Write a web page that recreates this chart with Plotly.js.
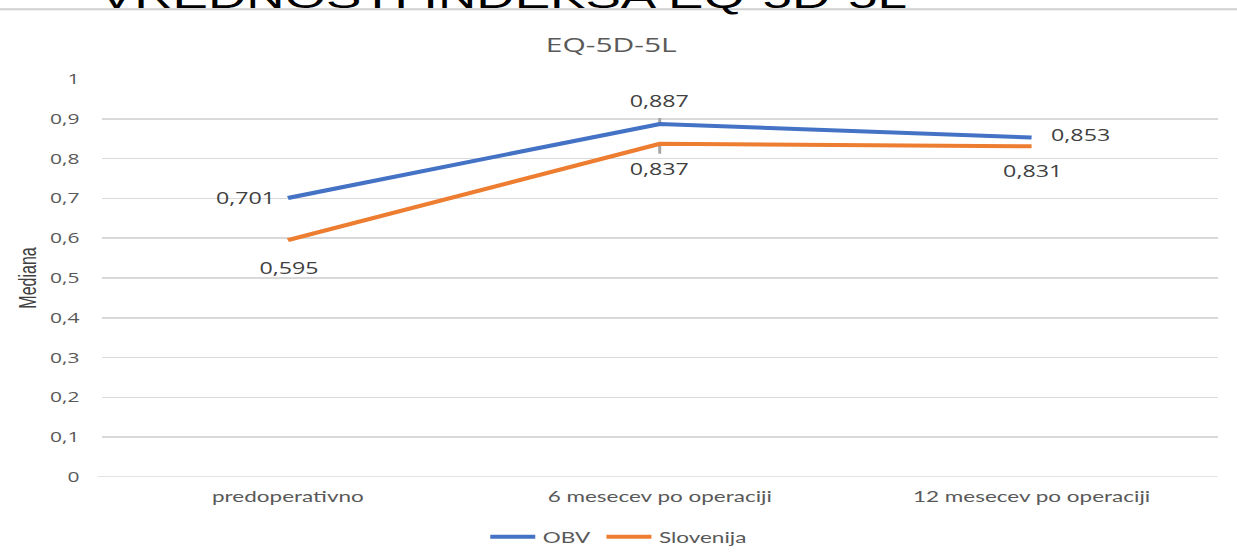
<!DOCTYPE html>
<html>
<head>
<meta charset="utf-8">
<script src="https://cdn.plot.ly/plotly-3.0.1.min.js"></script>
<style>
html,body{margin:0;padding:0;background:#fff;overflow:hidden;}
#wrap{width:1237px;height:560px;overflow:hidden;}
#chart{width:825px;height:560px;transform:scaleX(1.49939);transform-origin:0 0;}
</style>
</head>
<body>
<div id="wrap"><div id="chart"></div></div>
<script>
const categories = ["predoperativno", "6 mesecev po operaciji", "12 mesecev po operaciji"];
const obvValues = [0.701, 0.887, 0.853];
const sloValues = [0.595, 0.837, 0.831];
const yTickVals = [0, 0.1, 0.2, 0.3, 0.4, 0.5, 0.6, 0.7, 0.8, 0.9, 1];
const yTickText = ["0", "0,1", "0,2", "0,3", "0,4", "0,5", "0,6", "0,7", "0,8", "0,9", "1"];
const seriesNames = ["OBV", "Slovenija"];
const pageTitle = "VREDNOSTI INDEKSA EQ-5D-5L";
const chartTitle = "EQ-5D-5L";
const yTitle = "Mediana";

const fmt = v => v.toFixed(3).replace(".", ",");
const labelFont = {family: "Open Sans, DejaVu Sans, sans-serif", size: 15.5, color: "#404040"};

// label placement per point (style only)
const obvPlace = [
  {xanchor: "right", xshift: -7, yshift: 0},
  {xanchor: "center", xshift: 0, yshift: 23},
  {xanchor: "left", xshift: 11, yshift: 3}
];
const sloPlace = [
  {xanchor: "center", xshift: 0, yshift: -28},
  {xanchor: "center", xshift: 0, yshift: -25},
  {xanchor: "center", xshift: 0, yshift: -25}
];

const annotations = [];
obvValues.forEach((v, i) => annotations.push(Object.assign({
  x: categories[i], y: v, xref: "x", yref: "y", text: fmt(v), showarrow: false,
  yanchor: "middle", font: labelFont
}, obvPlace[i])));
sloValues.forEach((v, i) => annotations.push(Object.assign({
  x: categories[i], y: v, xref: "x", yref: "y", text: fmt(v), showarrow: false,
  yanchor: "middle", font: labelFont
}, sloPlace[i])));

annotations.push({
  text: chartTitle, xref: "paper", yref: "paper", x: 0.456, y: 1.087,
  xanchor: "center", yanchor: "middle", showarrow: false,
  font: {family: "Open Sans, sans-serif", size: 20, color: "#595959"}
});
annotations.push({
  text: pageTitle, xref: "paper", yref: "paper", x: -0.005, y: 1.209,
  xanchor: "left", yanchor: "middle", showarrow: false,
  font: {family: "Liberation Sans, Arial, sans-serif", size: 35.4, color: "#000000"}
});

const traces = [
  {
    x: categories, y: obvValues, name: seriesNames[0], type: "scatter", mode: "lines",
    line: {color: "#4472C4", width: 4},
    error_y: {type: "data", symmetric: false, array: [0, 0.015, 0], arrayminus: [0, 0, 0], color: "#A6A6A6", thickness: 2, width: 0}
  },
  {
    x: categories, y: sloValues, name: seriesNames[1], type: "scatter", mode: "lines",
    line: {color: "#ED7D31", width: 4},
    error_y: {type: "data", symmetric: false, array: [0, 0, 0], arrayminus: [0, 0.025, 0], color: "#A6A6A6", thickness: 2, width: 0}
  }
];

const layout = {
  width: 825, height: 560,
  margin: {l: 68, r: 13, t: 79, b: 83, autoexpand: false},
  paper_bgcolor: "#ffffff", plot_bgcolor: "#ffffff",
  separators: ",.",
  showlegend: true,
  legend: {
    orientation: "h", x: 0.463, xanchor: "center", y: -0.151, yanchor: "middle",
    font: {family: "Lato, Open Sans, sans-serif", size: 15, color: "#595959"},
    itemwidth: 30, tracegroupgap: 0
  },
  xaxis: {
    type: "category", showgrid: false, zeroline: false, showline: false,
    ticks: "", ticklabelstandoff: 9, automargin: false,
    tickfont: {family: "Lato, Open Sans, sans-serif", size: 15, color: "#595959"},
    range: [-0.5, 2.5], fixedrange: true
  },
  yaxis: {
    range: [0, 1], tickvals: yTickVals, ticktext: yTickText, automargin: false,
    showgrid: true, gridcolor: "#D9D9D9", gridwidth: 1.5, zeroline: false,
    showline: false, ticks: "", ticklabelstandoff: 14,
    tickfont: {family: "Open Sans, DejaVu Sans, sans-serif", size: 14, color: "#595959"},
    title: {text: yTitle, font: {family: "Liberation Sans Narrow, Liberation Sans, sans-serif", size: 16, color: "#404040"}, standoff: 4}
  },
  shapes: [
    {type: "line", xref: "paper", yref: "paper", x0: -0.1, x1: 1.02, y0: 1.175, y1: 1.175,
     line: {color: "#D0D0D0", width: 2}},
    {type: "line", xref: "paper", yref: "y", x0: -0.004, x1: 1.0, y0: 0, y1: 0,
     line: {color: "#D9D9D9", width: 1.5}, layer: "below"}
  ],
  annotations: annotations
};

Plotly.newPlot("chart", traces, layout, {displayModeBar: false, staticPlot: true});
</script>
</body>
</html>
